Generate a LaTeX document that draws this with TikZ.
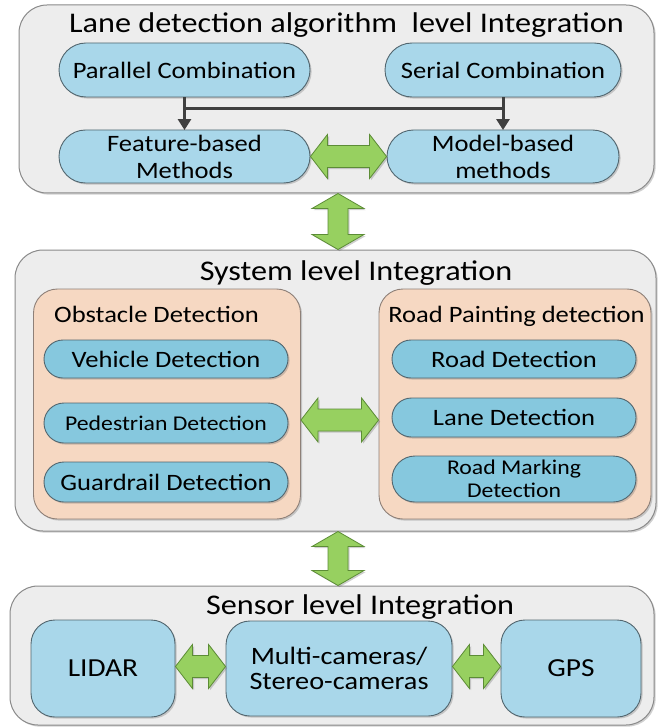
\documentclass[tikz,border=0pt]{standalone}
\usepackage{fontspec}
\setmainfont{Carlito}[FakeStretch=1.13]
\usetikzlibrary{calc,shadows,shapes.misc,arrows.meta}

\definecolor{panelfill}{HTML}{EDEDED}
\definecolor{paneldraw}{HTML}{8A8A8A}
\definecolor{pillfill}{HTML}{A9D7EA}
\definecolor{pilldark}{HTML}{86C8DE}
\definecolor{pilldraw}{HTML}{52666F}
\definecolor{groupfill}{HTML}{F6D8C2}
\definecolor{groupdraw}{HTML}{8E8078}
\definecolor{arrowfill}{HTML}{97D060}
\definecolor{arrowdraw}{HTML}{5C8C36}
\definecolor{linkgray}{HTML}{404040}

\tikzset{
  softshadow/.style={drop shadow={shadow xshift=1.6pt,shadow yshift=-1.6pt,opacity=.3,fill=black!60}},
  panel/.style={draw=paneldraw,fill=panelfill,line width=1pt,rounded corners=28pt,softshadow},
  group/.style={draw=groupdraw,fill=groupfill,line width=0.9pt,rounded corners=24pt,softshadow},
  pill/.style={rounded rectangle,draw=pilldraw,fill=pillfill,line width=0.9pt,
    align=center,inner sep=0pt,font=\fontsize{23.5}{27}\selectfont,softshadow},
  pillb/.style={pill,fill=pilldark},
  sensorbox/.style={draw=pilldraw,fill=pillfill,line width=0.9pt,rounded corners=24pt,
    align=center,inner sep=0pt,font=\fontsize{26}{25}\selectfont,softshadow},
  paneltitle/.style={anchor=base,inner sep=0pt,font=\fontsize{28.5}{32}\selectfont},
  grouptitle/.style={anchor=base,inner sep=0pt,font=\fontsize{23.5}{27}\selectfont},
  link/.style={draw=linkgray,line width=3pt},
  linkarrow/.style={link,-{Triangle[length=11pt,width=13pt]},shorten >=-0.5pt},
  garrow/.style={draw=arrowdraw,fill=arrowfill,line width=0.8pt,line join=miter,softshadow}
}

% green double arrows between two named points
\newcommand\greenH[2]{%
  \path[garrow] let \p1=#1, \p2=#2 in
    (\x1,\y1) -- (\x1+17pt,\y1+22pt) -- (\x1+17pt,\y1+11pt) -- (\x2-17pt,\y1+11pt)
    -- (\x2-17pt,\y1+22pt) -- (\x2,\y1) -- (\x2-17pt,\y1-22pt) -- (\x2-17pt,\y1-11pt)
    -- (\x1+17pt,\y1-11pt) -- (\x1+17pt,\y1-22pt) -- cycle;}
\newcommand\greenV[2]{%
  \path[garrow] let \p1=#1, \p2=#2 in
    (\x1,\y1) -- (\x1+26pt,\y1-15pt) -- (\x1+10pt,\y1-15pt) -- (\x1+10pt,\y2+15pt)
    -- (\x1+26pt,\y2+15pt) -- (\x1,\y2) -- (\x1-26pt,\y2+15pt) -- (\x1-10pt,\y2+15pt)
    -- (\x1-10pt,\y1-15pt) -- (\x1-26pt,\y1-15pt) -- cycle;}

\begin{document}
\begin{tikzpicture}[x=1pt,y=-1pt]
\useasboundingbox (0,0) rectangle (657,727);
\fill[white] (0,0) rectangle (657,727);

% ---------- algorithm level ----------
\node[panel,minimum width=635pt,minimum height=188pt] (top) at (336.5,99) {};
\node[paneltitle] (toptitle) at (346.5,33) {Lane detection algorithm\ \ level Integration};
\node[pill,minimum width=251pt,minimum height=54pt] (par) at (184.5,70) {Parallel Combination};
\node[pill,minimum width=236pt,minimum height=54pt] (ser) at (503,70) {Serial Combination};
\node[pill,minimum width=251pt,minimum height=53pt] (feat) at (184.5,156.5) {Feature-based\\Methods};
\node[pill,minimum width=232pt,minimum height=53pt] (model) at (503,156.5) {Model-based\\methods};

\coordinate (barL) at ($(par.south)+(0,11)$);
\coordinate (barR) at (ser.south |- barL);
\draw[link] (barL) -- (barR);
\draw[linkarrow] (par.south) -- (feat.north);
\draw[linkarrow] (ser.south) -- (ser.south |- model.north);
\greenH{(feat.east)}{(model.west)}

% ---------- system level ----------
\node[panel,minimum width=641pt,minimum height=281pt] (mid) at (335.5,390.5) {};
\node[paneltitle] (midtitle) at (356,280) {System level Integration};

\node[group,minimum width=267pt,minimum height=230pt] (obst) at (167,404) {};
\node[grouptitle,anchor=base west] (obsttitle) at (54,322) {Obstacle Detection};
\node[pillb,minimum width=244pt,minimum height=38pt] (veh) at (166,359) {Vehicle Detection};
\node[pillb,minimum width=244pt,minimum height=40pt,font=\fontsize{21}{24}\selectfont] (ped) at (166,423) {Pedestrian Detection};
\node[pillb,minimum width=244pt,minimum height=40pt] (guard) at (166,482) {Guardrail Detection};

\node[group,minimum width=272pt,minimum height=230pt] (paint) at (515,404) {};
\node[grouptitle] (painttitle) at (516.5,322) {Road Painting detection};
\node[pillb,minimum width=244pt,minimum height=38pt] (road) at (514,359) {Road Detection};
\node[pillb,minimum width=244pt,minimum height=39pt] (lane) at (514,417.5) {Lane Detection};
\node[pillb,minimum width=244pt,minimum height=46pt,font=\fontsize{21}{23}\selectfont] (mark) at (514,479) {Road Marking\\Detection};

\greenH{($(obst.east)+(0,16)$)}{($(paint.west)+(0,16)$)}
\greenV{($(top.south)+(1.5,0)$)}{($(top.south |- mid.north)+(1.5,0)$)}

% ---------- sensor level ----------
\node[panel,minimum width=644pt,minimum height=139pt] (bot) at (332,655.5) {};
\node[paneltitle] (bottitle) at (360,614) {Sensor level Integration};
\node[sensorbox,minimum width=144pt,minimum height=97pt] (lidar) at (103,668.5) {LIDAR};
\node[sensorbox,minimum width=226pt,minimum height=95pt,font=\fontsize{25}{25}\selectfont] (cam) at (339,668.5) {Multi-cameras/\\Stereo-cameras};
\node[sensorbox,minimum width=140pt,minimum height=97pt] (gps) at (571,668.5) {GPS};

\greenV{($(mid.south)+(2.5,0)$)}{($(mid.south |- bot.north)+(2.5,0)$)}
\greenH{($(lidar.east)+(0,-2)$)}{($(cam.west)+(0,-2)$)}
\greenH{($(cam.east)+(0,-2)$)}{($(gps.west)+(0,-2)$)}
\end{tikzpicture}
\end{document}
